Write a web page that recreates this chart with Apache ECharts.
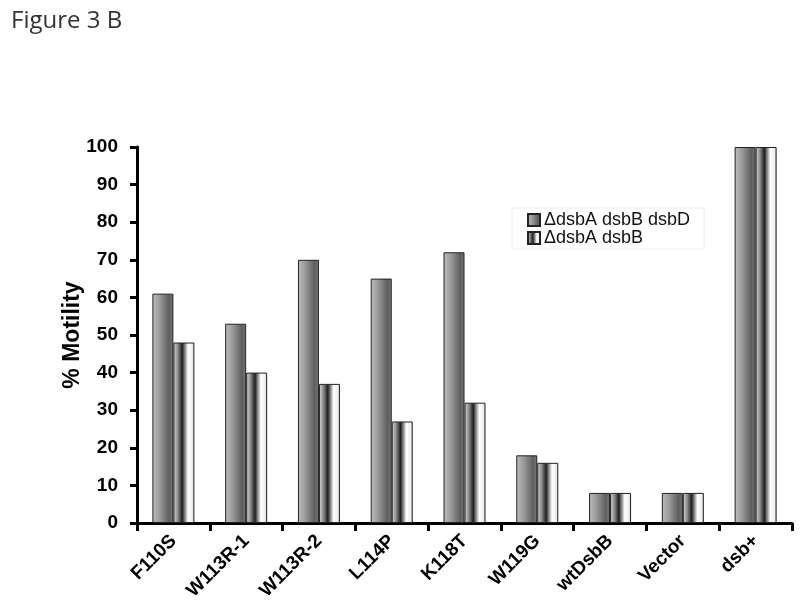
<!DOCTYPE html>
<html>
<head>
<meta charset="utf-8">
<style>html,body{margin:0;padding:0;background:#fff;}#c{width:800px;height:605px;}</style>
<script src="https://cdn.jsdelivr.net/npm/echarts@6/dist/echarts.min.js"></script>
</head>
<body>
<div id="c"></div>
<script>
var categories = ['F110S','W113R-1','W113R-2','L114P','K118T','W119G','wtDsbB','Vector','dsb+'];
var seriesNames = ['\u0394dsbA dsbB dsbD','\u0394dsbA dsbB'];
var tripleMutant = [61,53,70,65,72,18,8,8,100];
var doubleMutant = [48,40,37,27,32,16,8,8,100];
var yTicks = {min:0,max:100,interval:10};

var g1 = new echarts.graphic.LinearGradient(0,0,1,0,[
  {offset:0,color:'#bdbdbd'},{offset:0.35,color:'#9a9a9a'},{offset:0.8,color:'#5e5e5e'},{offset:1,color:'#7a7a7a'}]);
var g2 = new echarts.graphic.LinearGradient(0,0,1,0,[
  {offset:0,color:'#d8d8d8'},{offset:0.2,color:'#909090'},{offset:0.42,color:'#1e1e1e'},{offset:0.7,color:'#ffffff'},{offset:0.9,color:'#eeeeee'},{offset:1,color:'#bdbdbd'}]);

var chart = echarts.init(document.getElementById('c'),null,{renderer:'canvas'});
chart.setOption({
  backgroundColor:'#fff',
  animation:false,
  title:{text:'Figure 3 B',left:6,top:4,textStyle:{fontFamily:'Open Sans',fontWeight:'normal',fontSize:24,color:'#333'}},
  legend:{orient:'vertical',left:512,top:208,padding:[3,14,2,15],itemGap:0,itemWidth:12,itemHeight:12,
    borderColor:'#eeeeee',borderWidth:1,
    textStyle:{fontFamily:'Liberation Sans',fontSize:18,lineHeight:18,color:'#111',padding:[0,0,0,-1]},
    data:[{name:seriesNames[0],icon:'rect'},{name:seriesNames[1],icon:'rect'}]},
  grid:{left:137,right:8,top:147,bottom:82,containLabel:false},
  xAxis:{type:'category',data:categories,
    axisLine:{lineStyle:{color:'#000',width:3}},
    axisTick:{show:true,length:8,lineStyle:{color:'#000',width:3}},
    axisLabel:{rotate:45,interval:0,margin:15,fontFamily:'Liberation Sans',fontWeight:'bold',fontSize:19,color:'#000'}},
  yAxis:{type:'value',min:yTicks.min,max:yTicks.max,interval:yTicks.interval,
    name:'% Motility',nameLocation:'middle',nameGap:53,nameRotate:90,nameMoveOverlap:false,
    nameTextStyle:{fontFamily:'Liberation Sans',fontWeight:'bold',fontSize:23,color:'#000'},
    axisLine:{show:true,lineStyle:{color:'#000',width:3}},
    axisTick:{show:true,length:7,lineStyle:{color:'#000',width:3}},
    splitLine:{show:false},
    axisLabel:{margin:19,fontFamily:'Liberation Sans',fontWeight:'bold',fontSize:19,color:'#000'}},
  series:[
    {name:seriesNames[0],type:'bar',data:tripleMutant,barWidth:21,barGap:'0%',
     itemStyle:{color:g1,borderColor:'#222',borderWidth:1}},
    {name:seriesNames[1],type:'bar',data:doubleMutant,barWidth:21,barGap:'0%',
     itemStyle:{color:g2,borderColor:'#222',borderWidth:1}}
  ]
});
</script>
</body>
</html>
